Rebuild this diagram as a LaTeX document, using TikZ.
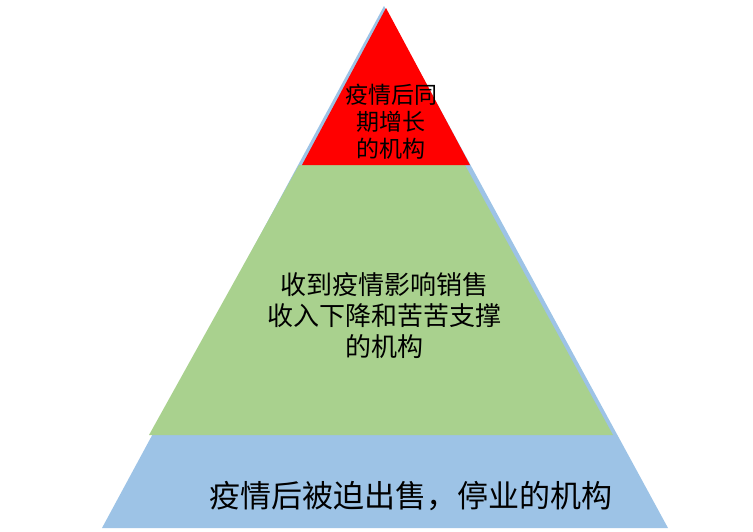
\documentclass[tikz,border=0pt]{standalone}
\usepackage{fontspec}
\newfontfamily\cjk{Noto Sans CJK SC}
\definecolor{tierblue}{HTML}{9DC3E6}
\definecolor{tiergreen}{HTML}{A9D18E}
\definecolor{tierred}{HTML}{FF0000}
\begin{document}
\begin{tikzpicture}[x=1pt,y=-1pt,
  lbl/.style={align=center,inner sep=0pt,text=black}]
\useasboundingbox (0,0) rectangle (753,531);
% blue base triangle
\fill[tierblue] (384,6) -- (668,528) -- (102,528) -- cycle;
% green trapezoid
\fill[tiergreen] (299,165) -- (465,165) -- (613,435) -- (149,435) -- cycle;
% red top triangle
\fill[tierred] (386,8) -- (470,165) -- (302,165) -- cycle;
% labels
\node[lbl,font=\cjk\fontsize{23}{27}\selectfont] (top) at (391,122) {疫情后同\\期增长\\的机构};
\node[lbl,font=\cjk\fontsize{26}{31}\selectfont] (mid) at (384,316) {收到疫情影响销售\\收入下降和苦苦支撑\\的机构};
\node[lbl,font=\cjk\fontsize{31}{36}\selectfont] (bot) at (411,496) {疫情后被迫出售，停业的机构};
\end{tikzpicture}
\end{document}
